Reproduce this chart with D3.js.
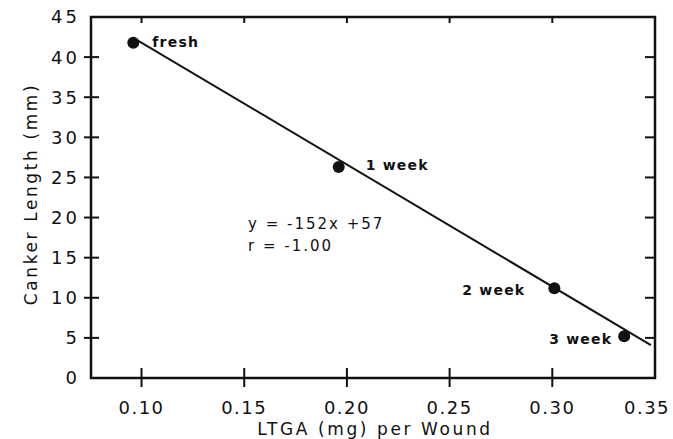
<!DOCTYPE html>
<html>
<head>
<meta charset="utf-8">
<script src="https://cdn.jsdelivr.net/npm/d3@7"></script>
<style>
  body { margin: 0; background: #fff; }
  svg text { font-family: "DejaVu Sans", sans-serif; fill: #111; }
  .tick-label { font-size: 18px; letter-spacing: 1.5px; }
  .ytick-label { font-size: 18px; letter-spacing: 3px; }
  .axis-title { font-size: 17px; letter-spacing: 2.6px; }
  .pt-label { font-size: 14px; font-weight: bold; letter-spacing: 1.2px; }
  .eq { font-size: 15px; letter-spacing: 2px; }
</style>
</head>
<body>
<svg id="chart" width="673" height="439"></svg>
<script>
// data
const labels = ["fresh", "1 week", "2 week", "3 week"];
const ltga = [0.096, 0.196, 0.301, 0.335];
const canker = [41.8, 26.3, 11.2, 5.2];

const xTicks = [0.10, 0.15, 0.20, 0.25, 0.30, 0.35];
const yTicks = [0, 5, 10, 15, 20, 25, 30, 35, 40, 45];

// fitted line as printed on the chart
const slope = -152, intercept = 57;
const lineRange = [0.096, 0.348];

const margin = { top: 17, right: 18, bottom: 61, left: 91 };
const width = 673 - margin.left - margin.right;
const height = 439 - margin.top - margin.bottom;

const svg = d3.select("#chart");
const g = svg.append("g")
  .attr("transform", `translate(${margin.left},${margin.top})`);

const x = d3.scaleLinear().domain([0.0754, 0.35]).range([0, width]);
const y = d3.scaleLinear().domain([0, 45]).range([height, 0]);

// frame
g.append("rect")
  .attr("x", 0).attr("y", 0)
  .attr("width", width).attr("height", height)
  .attr("fill", "none")
  .attr("stroke", "#111")
  .attr("stroke-width", 2.5);

// x ticks: bottom crossing the axis, small inward ones on top
const inner = xTicks.filter(d => d < 0.35);
g.selectAll(".xtick").data(inner).enter().append("line")
  .attr("x1", d => x(d)).attr("x2", d => x(d))
  .attr("y1", height - 10).attr("y2", height + 9)
  .attr("stroke", "#111").attr("stroke-width", 2);
g.selectAll(".xtick-top").data(inner).enter().append("line")
  .attr("x1", d => x(d)).attr("x2", d => x(d))
  .attr("y1", 0).attr("y2", 6)
  .attr("stroke", "#111").attr("stroke-width", 2);
g.selectAll(".xlab").data(xTicks).enter().append("text")
  .attr("class", "tick-label")
  .attr("x", d => x(d) - (d === 0.35 ? 8 : 0)).attr("y", height + 36)
  .attr("text-anchor", "middle")
  .text(d => d.toFixed(2));

// y ticks: left crossing the axis, inward on the right
const innerY = yTicks.filter(d => d > 0 && d < 45);
g.selectAll(".ytick").data(innerY).enter().append("line")
  .attr("x1", -7).attr("x2", 8)
  .attr("y1", d => y(d)).attr("y2", d => y(d))
  .attr("stroke", "#111").attr("stroke-width", 2);
g.selectAll(".ytick-r").data(innerY).enter().append("line")
  .attr("x1", width - 10).attr("x2", width)
  .attr("y1", d => y(d)).attr("y2", d => y(d))
  .attr("stroke", "#111").attr("stroke-width", 2);
g.selectAll(".ylab").data(yTicks).enter().append("text")
  .attr("class", "ytick-label")
  .attr("x", -11).attr("y", d => y(d))
  .attr("dy", "0.36em")
  .attr("text-anchor", "end")
  .text(d => d);

// regression line
g.append("line")
  .attr("x1", x(lineRange[0])).attr("y1", y(slope * lineRange[0] + intercept))
  .attr("x2", x(lineRange[1])).attr("y2", y(slope * lineRange[1] + intercept))
  .attr("stroke", "#111").attr("stroke-width", 2);

// points
g.selectAll(".pt").data(ltga).enter().append("circle")
  .attr("cx", d => x(d)).attr("cy", (d, i) => y(canker[i]))
  .attr("r", 6).attr("fill", "#111");

// point labels
const labelPos = [
  { dx: 19, dy: 4, anchor: "start" },
  { dx: 27, dy: 3, anchor: "start" },
  { dx: -29, dy: 7, anchor: "end" },
  { dx: -12, dy: 8, anchor: "end" }
];
g.selectAll(".plab").data(labels).enter().append("text")
  .attr("class", "pt-label")
  .attr("x", (d, i) => x(ltga[i]) + labelPos[i].dx)
  .attr("y", (d, i) => y(canker[i]) + labelPos[i].dy)
  .attr("text-anchor", (d, i) => labelPos[i].anchor)
  .text(d => d);

// equation
g.append("text").attr("class", "eq")
  .attr("x", 157).attr("y", 212)
  .text("y = -152x +57");
g.append("text").attr("class", "eq")
  .attr("x", 157).attr("y", 234)
  .text("r  = -1.00");

// axis titles
svg.append("text").attr("class", "axis-title")
  .attr("x", 375).attr("y", 435)
  .attr("text-anchor", "middle")
  .text("LTGA (mg) per Wound");
svg.append("text").attr("class", "axis-title")
  .attr("transform", "translate(37,194) rotate(-90)")
  .attr("text-anchor", "middle")
  .text("Canker Length (mm)");
</script>
</body>
</html>
